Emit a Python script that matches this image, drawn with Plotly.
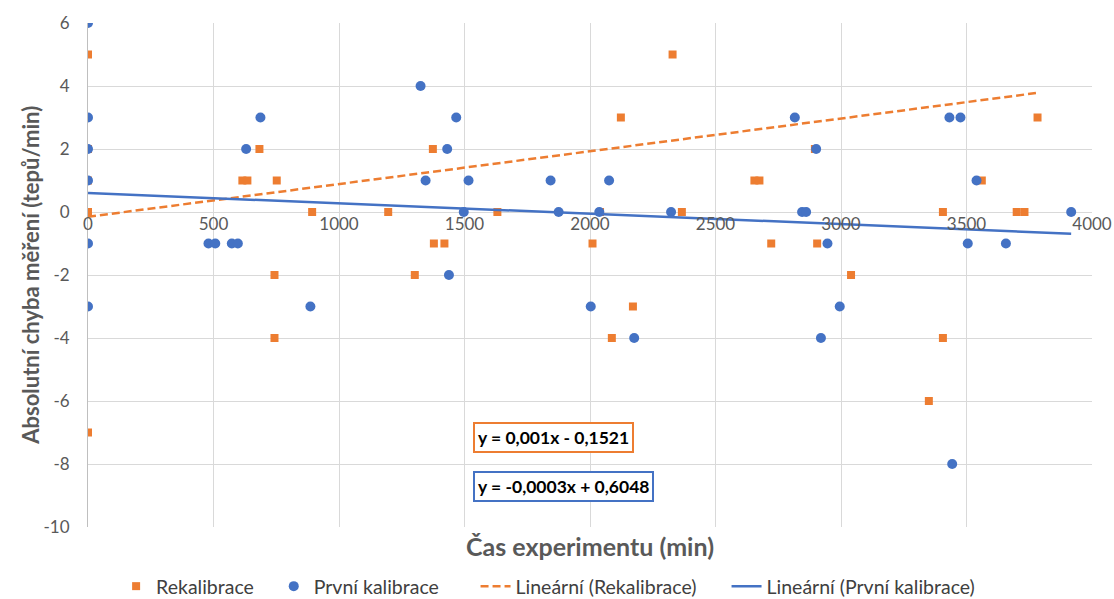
import numpy as np
import plotly.graph_objects as go

# Rekalibrace: time (min) and absolute error (beats/min)
rekal_x = [0, 0, 0, 0, 0, 615, 635, 683, 743, 743, 752, 893, 1196, 1302, 1374, 1378, 1420,
           1631, 2010, 2040, 2087, 2123, 2171, 2329, 2366, 2655, 2675, 2722, 2896, 2905,
           3040, 3350, 3406, 3406, 3561, 3700, 3731, 3783]
rekal_y = [5, 2, 1, 0, -7, 1, 1, 2, -2, -4, 1, 0, 0, -2, 2, -1, -1,
           0, -1, 0, -4, 3, -3, 5, 0, 1, 1, -1, 2, -1,
           -2, -6, 0, -4, 1, 0, 0, 3]

# První kalibrace
prvni_x = [0, 0, 0, 0, 0, 0, 480, 507, 573, 597, 630, 687, 886, 1325, 1345, 1431, 1438,
           1467, 1497, 1516, 1843, 1875, 2003, 2037, 2076, 2176, 2323, 2816, 2845, 2861,
           2901, 2920, 2946, 2995, 3432, 3443, 3476, 3505, 3540, 3657, 3917]
prvni_y = [6, 3, 2, 1, -1, -3, -1, -1, -1, -1, 2, 3, -3, 4, 1, 2, -2,
           3, 0, 1, 1, 0, -3, 0, 1, -4, 0, 3, 0, 0,
           2, -4, -1, -3, 3, -8, 3, -1, 1, -1, 0]

# Linear trend coefficients (slope, intercept)
rekal_trend = (0.00104, -0.1521)
prvni_trend = (-0.00033, 0.6048)

# Axis ticks
x_ticks = [0, 500, 1000, 1500, 2000, 2500, 3000, 3500, 4000]
y_ticks = [-10, -8, -6, -4, -2, 0, 2, 4, 6]

ORANGE = "#ED7D31"
BLUE = "#4472C4"
GREY = "#595959"
FONT = "Lato"


def trend_line(xs, coef):
    xx = np.array([min(xs), max(xs)], dtype=float)
    return xx, coef[0] * xx + coef[1]


def fmt(v):
    return f"{abs(v):.4f}".rstrip("0").rstrip(".").replace(".", ",")


def equation(coef):
    m, b = coef
    sign = "-" if b < 0 else "+"
    ms = ("-" if m < 0 else "") + fmt(m)
    return f"y = {ms}x {sign} {fmt(b)}"


fig = go.Figure()

fig.add_trace(go.Scatter(
    x=rekal_x, y=rekal_y, mode="markers", name="Rekalibrace", legend="legend",
    marker=dict(symbol="square", size=8, color=ORANGE),
))
fig.add_trace(go.Scatter(
    x=prvni_x, y=prvni_y, mode="markers", name="První kalibrace", legend="legend2",
    marker=dict(symbol="circle", size=10, color=BLUE),
))

tx, ty = trend_line(rekal_x, rekal_trend)
fig.add_trace(go.Scatter(
    x=tx, y=ty, mode="lines", name="Lineární (Rekalibrace)", legend="legend3",
    line=dict(color=ORANGE, width=2.5, dash="8px,4px"),
))
tx, ty = trend_line(prvni_x, prvni_trend)
fig.add_trace(go.Scatter(
    x=tx, y=ty, mode="lines", name="Lineární (První kalibrace)", legend="legend4",
    line=dict(color=BLUE, width=2.5),
))

# Trend equations
fig.add_annotation(
    x=1532, y=-7.17, xref="x", yref="y", xanchor="left", yanchor="middle",
    text=f"<b>{equation(rekal_trend)}</b>", showarrow=False,
    font=dict(family=FONT, size=17.5, color="black"),
    bordercolor=ORANGE, borderwidth=2, borderpad=3, bgcolor="white",
)
fig.add_annotation(
    x=1532, y=-8.72, xref="x", yref="y", xanchor="left", yanchor="middle",
    text=f"<b>{equation(prvni_trend)}</b>", showarrow=False,
    font=dict(family=FONT, size=17.5, color="black"),
    bordercolor=BLUE, borderwidth=2, borderpad=3, bgcolor="white",
)

# Axis titles
fig.add_annotation(
    x=0.5, y=-0.038, xref="paper", yref="paper", xanchor="center", yanchor="middle",
    text="<b>Čas experimentu (min)</b>", showarrow=False,
    font=dict(family=FONT, size=25, color=GREY),
)
fig.add_annotation(
    x=-0.058, y=0.5, xref="paper", yref="paper", xanchor="center", yanchor="middle",
    text="<b>Absolutní chyba měření (tepů/min)</b>", showarrow=False, textangle=-90,
    font=dict(family=FONT, size=22, color=GREY),
)

legend_style = dict(
    orientation="h", xanchor="left", y=-0.118, yanchor="middle",
    font=dict(family=FONT, size=19.5, color="#404040"), bgcolor="rgba(0,0,0,0)",
)

fig.update_layout(
    width=1114, height=599,
    margin=dict(l=88, r=22, t=23, b=72, autoexpand=False),
    paper_bgcolor="white", plot_bgcolor="white",
    font=dict(family=FONT, color=GREY),
    showlegend=True,
    legend=dict(x=0.028, **legend_style),
    legend2=dict(x=0.185, **legend_style),
    legend3=dict(x=0.386, **legend_style),
    legend4=dict(x=0.636, **legend_style),
    xaxis=dict(
        range=[0, 4000], tickvals=x_ticks, ticktext=[str(v) for v in x_ticks],
        showgrid=True, gridcolor="#D9D9D9", gridwidth=1,
        zeroline=False, showline=False, automargin=False,
        anchor="free", position=0.625,
        tickfont=dict(family=FONT, size=17, color=GREY),
        ticks="", ticklabelstandoff=0,
    ),
    yaxis=dict(
        range=[-10, 6], tickvals=y_ticks, ticktext=[str(v) for v in y_ticks],
        showgrid=True, gridcolor="#D9D9D9", gridwidth=1,
        zeroline=False, showline=True, linecolor="#BFBFBF", linewidth=1,
        automargin=False,
        tickfont=dict(family=FONT, size=17, color=GREY),
        ticks="", ticklabelstandoff=14,
    ),
)

fig.write_html("out.html")
